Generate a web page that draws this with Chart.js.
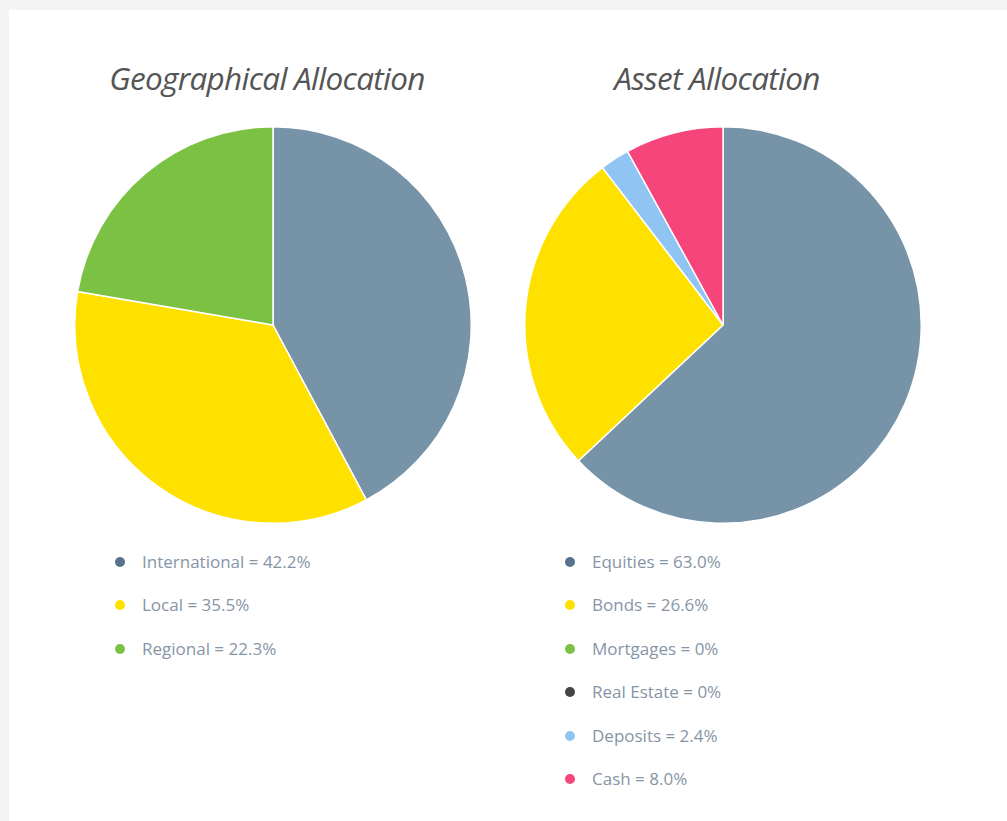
<!DOCTYPE html>
<html>
<head>
<meta charset="utf-8">
<script src="https://cdn.jsdelivr.net/npm/chart.js@4.4.1/dist/chart.umd.min.js"></script>
<style>
  html, body { margin: 0; padding: 0; background: #f4f4f4; width: 1007px; height: 821px; overflow: hidden; }
  #card { position: absolute; left: 9px; top: 10px; width: 998px; height: 811px; background: #fff; }
  .title { position: absolute; top: 55px; width: 420px; text-align: center; font-family: "Open Sans", sans-serif; font-style: italic; font-size: 31.5px; color: #555; letter-spacing: -0.7px; line-height: 46px; }
  .pie { position: absolute; top: 126px; width: 398px; height: 398px; }
  .legend { position: absolute; top: 540px; margin: 0; padding: 0; list-style: none; font-family: "Open Sans", sans-serif; font-size: 17px; color: #8695a6; letter-spacing: 0px; }
  .legend li { height: 43.4px; line-height: 43.4px; position: relative; padding-left: 32px; white-space: nowrap; }
  .legend li span { position: absolute; left: 5px; top: 17px; width: 10px; height: 10px; border-radius: 50%; }
</style>
</head>
<body>
<div id="card"></div>
<div class="title" style="left:57px">Geographical Allocation</div>
<div class="title" style="left:507px">Asset Allocation</div>
<div class="pie" style="left:74px"><canvas id="geo"></canvas></div>
<div class="pie" style="left:524px"><canvas id="asset"></canvas></div>
<ul class="legend" id="geoLegend" style="left:110px"></ul>
<ul class="legend" id="assetLegend" style="left:560px"></ul>
<script>
const geoLabels = ["International", "Local", "Regional"];
const geoValues = [42.2, 35.5, 22.3];
const geoColors = ["#7793a8", "#ffe100", "#7bc143"];
const geoDotColors = ["#56728c", "#ffe100", "#7bc143"];

const assetLabels = ["Equities", "Bonds", "Mortgages", "Real Estate", "Deposits", "Cash"];
const assetValues = [63.0, 26.6, 0, 0, 2.4, 8.0];
const assetColors = ["#7793a8", "#ffe100", "#7bc143", "#444444", "#90c4f2", "#f5457a"];
const assetDotColors = ["#56728c", "#ffe100", "#7bc143", "#444444", "#90c4f2", "#f5457a"];

function fmt(v) { return v === 0 ? "0%" : v.toFixed(1) + "%"; }

function makePie(id, labels, values, colors) {
  new Chart(document.getElementById(id), {
    type: "pie",
    data: { labels: labels, datasets: [{ data: values, backgroundColor: colors, borderColor: "#ffffff", borderWidth: 1.5, hoverOffset: 0 }] },
    options: {
      responsive: true, maintainAspectRatio: false, animation: false,
      layout: { padding: 0 },
      plugins: { legend: { display: false }, tooltip: { enabled: false } }
    }
  });
}

function makeLegend(id, labels, values, dots) {
  const ul = document.getElementById(id);
  labels.forEach((l, i) => {
    const li = document.createElement("li");
    const s = document.createElement("span");
    s.style.background = dots[i];
    li.appendChild(s);
    li.appendChild(document.createTextNode(l + " = " + fmt(values[i])));
    ul.appendChild(li);
  });
}

makePie("geo", geoLabels, geoValues, geoColors);
makePie("asset", assetLabels, assetValues, assetColors);
makeLegend("geoLegend", geoLabels, geoValues, geoDotColors);
makeLegend("assetLegend", assetLabels, assetValues, assetDotColors);
</script>
</body>
</html>
